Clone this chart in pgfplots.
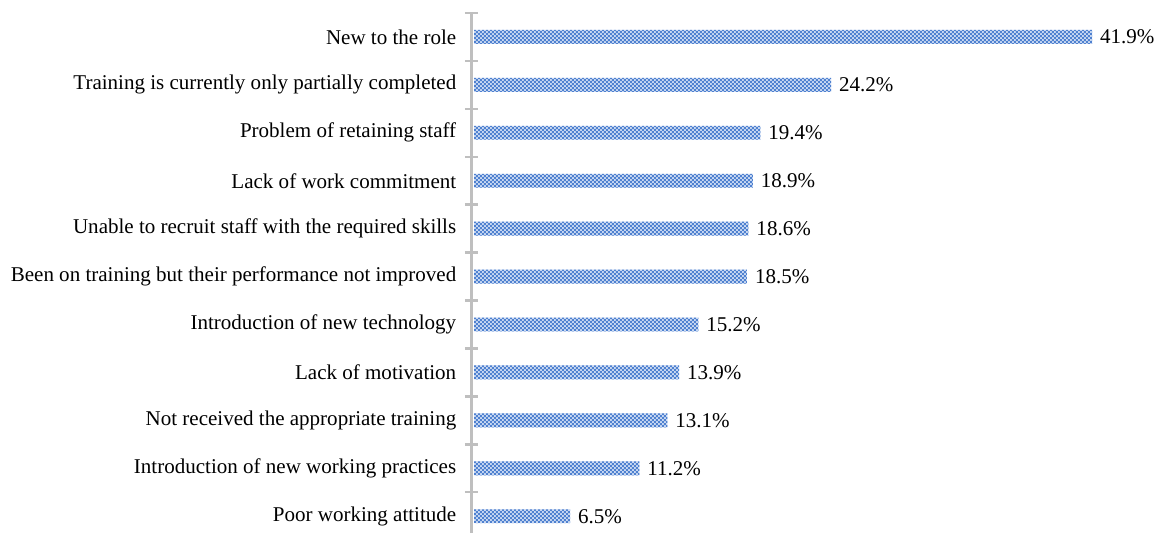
\documentclass[border=0pt]{standalone}
\usepackage{pgfplots}
\pgfplotsset{compat=1.18}
\usepackage{fontspec}
\setmainfont{Liberation Serif}
\usetikzlibrary{patterns}
\pgfdeclarepatternformonly{finecheck}{\pgfpointorigin}{\pgfqpoint{2pt}{2pt}}{\pgfqpoint{2pt}{2pt}}{%
  \pgfpathrectangle{\pgfpointorigin}{\pgfqpoint{1pt}{1pt}}%
  \pgfpathrectangle{\pgfqpoint{1pt}{1pt}}{\pgfqpoint{1pt}{1pt}}%
  \pgfusepath{fill}}
\definecolor{bardark}{RGB}{79,129,208}
\definecolor{barlight}{RGB}{200,216,242}
\definecolor{axgray}{RGB}{191,191,191}
\begin{document}
\begin{tikzpicture}
\begin{axis}[
  scale only axis,
  width=334.5pt, height=261pt,
  xbar, bar width=0.29,
  xmin=-0.2, xmax=45,
  ymin=-0.35, ymax=10.5,
  axis y line=left,
  axis x line=none,
  y axis line style={-, draw=axgray, line width=1.3pt},
  ytick={0,...,10},
  yticklabels={Poor working attitude,
    Introduction of new working practices,
    Not received the appropriate training,
    Lack of motivation,
    Introduction of new technology,
    Been on training but their performance not improved,
    Unable to recruit staff with the required skills,
    Lack of work commitment,
    Problem of retaining staff,
    Training is currently only partially completed,
    New to the role},
  major tick length=0pt,
  minor ytick={-0.5,0.5,...,10.5},
  minor tick length=6.5pt,
  tick align=center,
  minor tick style={draw=axgray, line width=1.2pt},
  yticklabel style={font=\fontsize{10.55}{12}\selectfont, xshift=-4pt},
  /pgf/number format/assume math mode=true,
  point meta=x,
  nodes near coords={\pgfmathprintnumber[fixed,fixed zerofill,precision=1]{\pgfplotspointmeta}\%},
  nodes near coords style={font=\fontsize{10.55}{12}\selectfont, text=black, anchor=west, xshift=0.5pt},
  clip=false,
]
\addplot[draw=none, fill=barlight, postaction={pattern=finecheck, pattern color=bardark}] coordinates {
  (6.5,0) (11.2,1) (13.1,2) (13.9,3) (15.2,4) (18.5,5)
  (18.6,6) (18.9,7) (19.4,8) (24.2,9) (41.9,10)
};
\end{axis}
\path (-236.5pt,0pt) rectangle (344pt,267.5pt);
\end{tikzpicture}
\end{document}
